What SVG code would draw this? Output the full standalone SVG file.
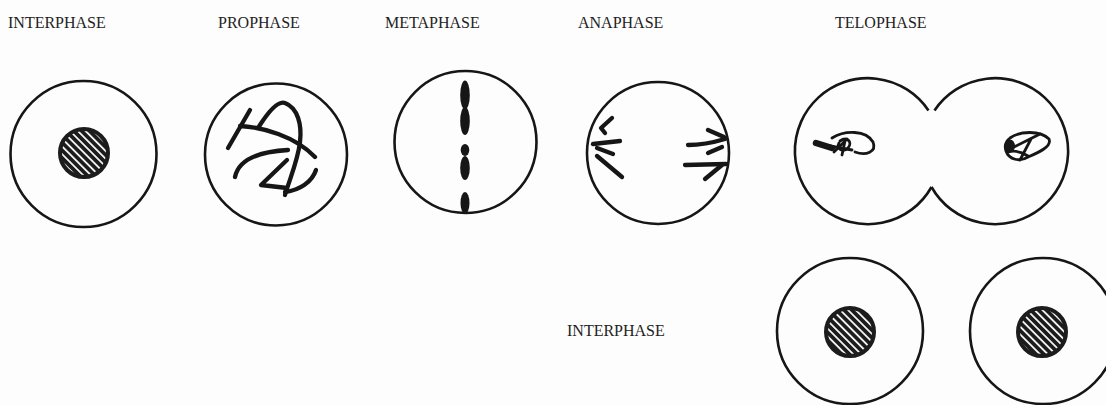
<svg xmlns="http://www.w3.org/2000/svg" width="1106" height="405" viewBox="0 0 1106 405">
  <defs>
    <!-- diagonal light stripes on a dark nucleus -->
    <pattern id="hatch" patternUnits="userSpaceOnUse" width="5.5" height="5.5" patternTransform="rotate(-45)">
      <rect width="5.5" height="5.5" fill="#1c1c1c"/>
      <rect x="0" y="0" width="1.8" height="5.5" fill="#f4f4f4"/>
    </pattern>
  </defs>
  <style>
    .cell { fill: none; stroke: #161616; stroke-width: 2.6; }
    .nucleus { fill: url(#hatch); stroke: #1c1c1c; stroke-width: 4; }
    .chr { fill: none; stroke: #161616; stroke-width: 4.3; stroke-linecap: round; stroke-linejoin: round; }
    .thin { fill: none; stroke: #161616; stroke-width: 2.8; stroke-linecap: round; stroke-linejoin: round; }
    .blob { fill: #161616; }
    .label { font-family: "Liberation Serif", "Times New Roman", serif; font-size: 16px; fill: #222; }
  </style>

  <rect width="1106" height="405" fill="#fdfdfd"/>

  <!-- stage titles -->
  <g id="labels">
    <text class="label" x="8" y="28">INTERPHASE</text>
    <text class="label" x="218" y="28">PROPHASE</text>
    <text class="label" x="385" y="28">METAPHASE</text>
    <text class="label" x="578" y="28">ANAPHASE</text>
    <text class="label" x="835" y="28">TELOPHASE</text>
    <text class="label" x="567" y="336">INTERPHASE</text>
  </g>

  <!-- resting cell -->
  <g id="interphase">
    <circle class="cell" cx="83.5" cy="154" r="73"/>
    <circle class="nucleus" cx="84" cy="153" r="24"/>
  </g>

  <!-- condensing chromosomes -->
  <g id="prophase">
    <circle class="cell" cx="276" cy="154.5" r="71"/>
    <path class="chr" d="M250,110 L228,148"/>
    <path class="chr" d="M240,126 C262,127 295,136 315,157"/>
    <path class="chr" d="M258,128 C268,112 278,100 285,103 C298,108 302,125 300,142 C298,160 290,178 285,195"/>
    <path class="chr" d="M235,177 C238,163 252,152 288,150"/>
    <path class="chr" d="M287,160 L261,185 L287,188"/>
    <path class="chr" d="M285,192 C300,190 312,182 316,170"/>
  </g>

  <!-- chromosomes lined up on the equator -->
  <g id="metaphase">
    <circle class="cell" cx="465.5" cy="142" r="71"/>
    <ellipse class="blob" cx="465" cy="95" rx="4.8" ry="14.5"/>
    <ellipse class="blob" cx="465" cy="121" rx="4.8" ry="14"/>
    <ellipse class="blob" cx="465" cy="150" rx="4.3" ry="6"/>
    <ellipse class="blob" cx="465" cy="168" rx="4.8" ry="12"/>
    <ellipse class="blob" cx="465" cy="203" rx="4.5" ry="11"/>
  </g>

  <!-- chromatids pulled to the poles -->
  <g id="anaphase">
    <circle class="cell" cx="658" cy="153" r="71"/>
    <path class="chr" d="M612,118 L601,128 L605,133"/>
    <path class="chr" d="M593,144 L620,141"/>
    <path class="chr" d="M597,148 L613,154"/>
    <path class="chr" d="M597,156 L622,177"/>
    <path class="chr" d="M708,130 L724,137"/>
    <path class="chr" d="M688,145 Q705,145 725,139"/>
    <path class="chr" d="M708,153 L722,147"/>
    <path class="chr" d="M685,165 L726,164"/>
    <path class="chr" d="M705,179 L722,165"/>
  </g>

  <!-- dividing cell with reforming nuclei -->
  <g id="telophase">
    <path class="cell" d="M928.5,110.5 A73,73 0 1 0 931.5,187"/>
    <path class="cell" d="M934.5,110.5 A73,73 0 1 1 931.5,187"/>
    <path class="chr" style="stroke-width:6.5" d="M816,143 L832,148"/>
    <path class="thin" d="M832,138 C845,130 866,130 873,142 C877,152 866,156 855,152"/>
    <path class="thin" d="M840,141 C847,136 853,142 848,148 C843,153 836,149 839,143"/>
    <path class="thin" d="M834,152 L847,139 M842,155 L845,141 M830,146 L852,150"/>
    <path class="thin" d="M1010,138 C1020,131 1040,130 1049,139 C1052,146 1040,152 1028,157 C1020,162 1009,160 1006,151 C1004,145 1006,141 1010,138 Z"/>
    <path class="thin" d="M1012,148 L1040,134 M1020,160 L1031,139 M1008,152 C1015,150 1022,152 1028,156"/>
    <ellipse class="blob" cx="1010" cy="146" rx="5" ry="6.5"/>
  </g>

  <!-- two daughter cells -->
  <g id="daughter-left">
    <circle class="cell" cx="850" cy="331" r="73"/>
    <circle class="nucleus" cx="850" cy="332" r="24"/>
  </g>
  <g id="daughter-right">
    <circle class="cell" cx="1043" cy="331" r="73"/>
    <circle class="nucleus" cx="1042" cy="332" r="24"/>
  </g>
</svg>
